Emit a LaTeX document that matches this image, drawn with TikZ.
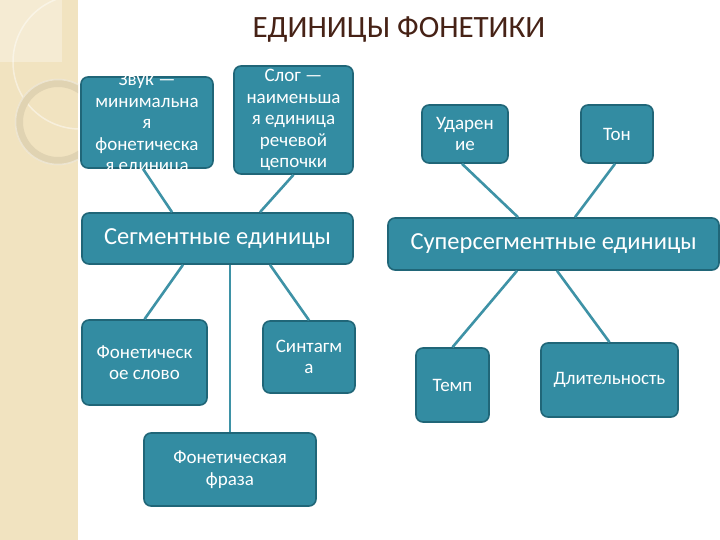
\documentclass[tikz,border=0pt]{standalone}
\usepackage{fontspec}
\setmainfont{Carlito}
\definecolor{tealbox}{RGB}{51,140,162}
\definecolor{tealedge}{RGB}{32,102,120}
\definecolor{tealline}{RGB}{62,146,166}
\definecolor{titlebrown}{RGB}{70,34,22}
\definecolor{stripbeige}{RGB}{241,227,192}
\definecolor{stripring}{RGB}{224,211,178}
\begin{document}
\begin{tikzpicture}[x=1pt, y=-1pt,
  every node/.style={font=\fontsize{19}{21.5}\selectfont, align=center},
  unit/.style={rectangle, rounded corners=7pt, draw=tealedge, line width=1.6pt, fill=tealbox, text=white, inner sep=0pt},
  bigunit/.style={unit, font=\fontsize{24.5}{28}\selectfont},
  unittext/.style={text=white, inner sep=0pt},
  link/.style={draw=tealline, line width=2.6pt}
]
\useasboundingbox (0,0) rectangle (720,540);
\fill[white] (0,0) rectangle (720,540);

% Полоса слева с кольцами
\fill[stripbeige] (0,0) rectangle (78,540);
\begin{scope}
  \clip (0,0) rectangle (78,540);
  \fill[white, opacity=0.3] (0,0) rectangle (62,62);
  \draw[white, opacity=0.45, line width=1.5pt] (80,62) circle (67);
  \draw[stripring, line width=8pt] (58,122) circle (39);
  \draw[white, opacity=0.4, line width=1.5pt] (58,122) circle (42.5);
\end{scope}

% Заголовок
\node[font=\fontsize{31}{34}\selectfont, text=titlebrown] (title) at (399,30) {ЕДИНИЦЫ ФОНЕТИКИ};

% Сегментные единицы
\node[unit, minimum width=132pt, minimum height=91pt] (zvuk) at (147,122.5) {};
\begin{scope}
  \clip[rounded corners=7pt] (zvuk.south west) rectangle (zvuk.north east);
  \node[unittext] (zvuktext) at (147,124) {Звук —\\минимальна\\я\\фонетическа\\я единица};
\end{scope}
\node[unit, minimum width=119pt, minimum height=108pt] (slog) at (293.5,120) {Слог —\\наименьша\\я единица\\речевой\\цепочки};
\node[bigunit, minimum width=271pt, minimum height=51pt] (segm) at (217.5,238.5) {Сегментные единицы};
\node[unit, minimum width=125pt, minimum height=85pt] (fslovo) at (144.5,362.5) {Фонетическ\\ое слово};
\node[unit, minimum width=92pt, minimum height=72pt] (sint) at (309,357) {Синтагм\\а};
\node[unit, minimum width=172pt, minimum height=73pt] (fraza) at (230,469.5) {Фонетическая\\фраза};

% Суперсегментные единицы
\node[unit, minimum width=86pt, minimum height=58pt] (udar) at (465,134) {Ударен\\ие};
\node[unit, minimum width=72pt, minimum height=58pt] (ton) at (617,134) {Тон};
\node[bigunit, minimum width=331pt, minimum height=52pt] (super) at (553.5,244) {Суперсегментные единицы};
\node[unit, minimum width=73pt, minimum height=74pt] (temp) at (452.5,385) {Темп};
\node[unit, minimum width=137pt, minimum height=74pt] (dlit) at (609.5,380) {Длительность};

% Связи
\draw[link] ([xshift=-4pt]zvuk.south) -- ([xshift=-45.5pt]segm.north);
\draw[link] (slog.south) -- ([xshift=42.5pt]segm.north);
\draw[link] ([xshift=-34.5pt]segm.south) -- (fslovo.north);
\draw[link] ([xshift=12.5pt]segm.south) -- (fraza.north);
\draw[link] ([xshift=52.5pt]segm.south) -- (sint.north);
\draw[link] ([xshift=-3pt]udar.south) -- ([xshift=-35.5pt]super.north);
\draw[link] ([xshift=-2pt]ton.south) -- ([xshift=21.5pt]super.north);
\draw[link] ([xshift=-36.5pt]super.south) -- (temp.north);
\draw[link] ([xshift=3.5pt]super.south) -- (dlit.north);
\end{tikzpicture}
\end{document}
